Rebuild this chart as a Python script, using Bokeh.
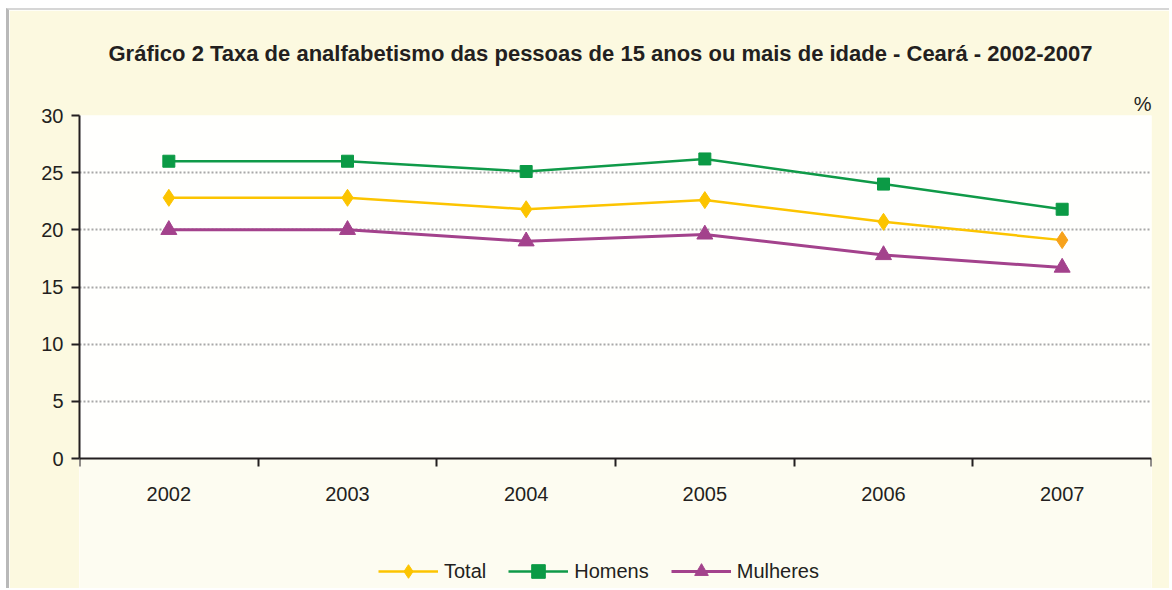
from bokeh.plotting import figure
from bokeh.models import (FixedTicker, Legend, LegendItem, Range1d, ColumnDataSource,
                          Title, BoxAnnotation)
from bokeh.embed import file_html
from bokeh.resources import INLINE

# ---- data ----
years = ["2002", "2003", "2004", "2005", "2006", "2007"]
total = [22.8, 22.8, 21.8, 22.6, 20.7, 19.1]
homens = [26.0, 26.0, 25.1, 26.2, 24.0, 21.8]
mulheres = [20.0, 20.0, 19.0, 19.6, 17.8, 16.7]
y_ticks = [0, 5, 10, 15, 20, 25, 30]
series_names = ["Total", "Homens", "Mulheres"]
title_text = "Gráfico 2  Taxa de analfabetismo das pessoas de 15 anos ou mais de idade - Ceará - 2002-2007"
unit_text = "%"

FONT = "Liberation Sans"
TXT = "#231f20"

# layout (pixels); the canvas is offset by a thin grey frame edge
OFF_X, OFF_Y = 9, 10
W, H = 1172 - OFF_X, 590 - OFF_Y
TOP, LEFT, RIGHT = 115 - OFF_Y, 79 - OFF_X, 1172 - 1151
PLOT_H = 343            # height of the 0..30 area
below_px = H - TOP - PLOT_H
ymax = y_ticks[-1]
ymin = -ymax * below_px / PLOT_H   # room under the axis for labels + legend

xpos = [i + 0.5 for i in range(len(years))]
total_colors = ["#fcc400"] * (len(years) - 1) + ["#f7a21b"]

src = ColumnDataSource(dict(x=xpos, total=total, homens=homens,
                            mulheres=mulheres, tcol=total_colors))

p = figure(width=W, height=H, output_backend="svg", toolbar_location=None,
           x_range=Range1d(0, len(years)), y_range=Range1d(ymin, ymax),
           min_border_left=LEFT, min_border_right=RIGHT, min_border_top=TOP,
           min_border_bottom=0)
p.styles = {"margin-left": "6px", "margin-top": "8px",
            "border-left": "3px solid #b9b9b9", "border-top": "2px solid #d6d6d6"}

p.background_fill_color = "#fffffd"
p.border_fill_color = "#fcf9e0"
p.outline_line_color = None

# pale band under the axis
p.add_layout(BoxAnnotation(top=0, fill_color="#fdfcf1", fill_alpha=1,
                           line_color=None, level="underlay"))

# main title (outermost)
p.title.text = title_text
p.title.align = "left"
p.title.offset = 108 - 79
p.title.text_font = FONT
p.title.text_font_size = "22px"
p.title.text_font_style = "bold"
p.title.text_color = TXT
p.title.standoff = 48

# unit label "%" (closest to the plot), right aligned
p.add_layout(Title(text=unit_text, align="right", text_font=FONT,
                   text_font_size="20px", text_font_style="normal",
                   text_color=TXT, standoff=2), "above")

# y axis
p.yaxis.ticker = FixedTicker(ticks=y_ticks)
p.yaxis.bounds = (0, ymax)
p.yaxis.axis_line_width = 2
p.yaxis.axis_line_color = TXT
p.yaxis.major_tick_line_width = 2
p.yaxis.major_tick_line_color = TXT
p.yaxis.major_tick_in = 0
p.yaxis.major_tick_out = 8
p.yaxis.minor_tick_line_color = None
p.yaxis.major_label_text_font = FONT
p.yaxis.major_label_text_font_size = "20px"
p.yaxis.major_label_text_color = TXT
p.yaxis.major_label_standoff = 8

# x axis at y=0: labels at centers, minor ticks at boundaries
p.xaxis.fixed_location = 0
p.xaxis.ticker = FixedTicker(ticks=xpos, minor_ticks=list(range(len(years) + 1)))
p.xaxis.major_label_overrides = {x: y for x, y in zip(xpos, years)}
p.xaxis.axis_line_width = 2
p.xaxis.axis_line_color = TXT
p.xaxis.major_tick_line_color = None
p.xaxis.major_tick_in = 0
p.xaxis.major_tick_out = 0
p.xaxis.minor_tick_line_color = TXT
p.xaxis.minor_tick_line_width = 2
p.xaxis.minor_tick_in = 0
p.xaxis.minor_tick_out = 8
p.xaxis.major_label_text_font = FONT
p.xaxis.major_label_text_font_size = "20px"
p.xaxis.major_label_text_color = TXT
p.xaxis.major_label_standoff = 20

# grid
p.xgrid.grid_line_color = None
p.ygrid.ticker = FixedTicker(ticks=y_ticks[1:])
p.ygrid.grid_line_color = "#a8a8a8"
p.ygrid.grid_line_dash = "2 2"
p.ygrid.grid_line_width = 2

# series
lt = p.line("x", "total", source=src, line_color="#fcc400", line_width=2.5)
mt = p.scatter("x", "total", source=src, marker="diamond", size=17,
               fill_color="tcol", line_color="tcol")
lh = p.line("x", "homens", source=src, line_color="#0f9a48", line_width=2.5)
mh = p.scatter("x", "homens", source=src, marker="square", size=12,
               fill_color="#0b9a45", line_color="#0b9a45")
lm = p.line("x", "mulheres", source=src, line_color="#a3428c", line_width=3)
mm = p.scatter("x", "mulheres", source=src, marker="triangle", size=16,
               fill_color="#a3428c", line_color="#a3428c")

legend = Legend(items=[LegendItem(label=series_names[0], renderers=[lt, mt]),
                       LegendItem(label=series_names[1], renderers=[lh, mh]),
                       LegendItem(label=series_names[2], renderers=[lm, mm])],
                orientation="horizontal", location=(299, 2),
                glyph_width=60, glyph_height=34, label_standoff=6, spacing=22,
                label_text_font=FONT, label_text_font_size="20px",
                label_text_color=TXT, border_line_color=None,
                background_fill_alpha=0, margin=0, padding=0)
p.add_layout(legend)

open("out.html", "w").write(file_html(p, INLINE))
